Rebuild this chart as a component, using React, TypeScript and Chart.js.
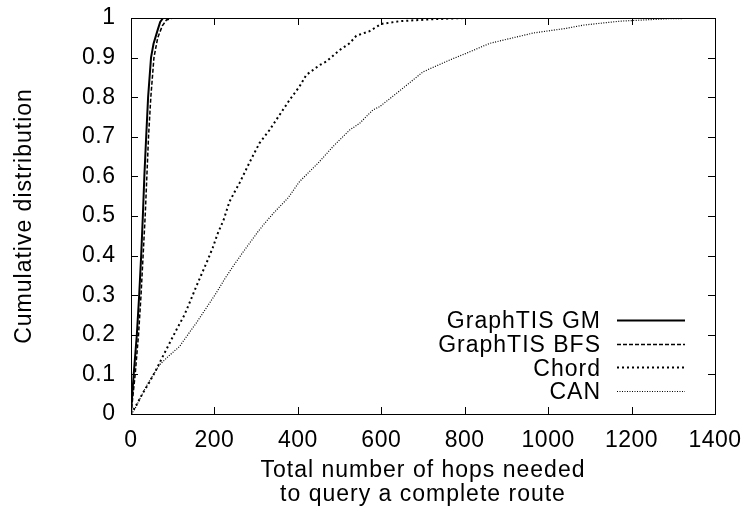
import { useEffect, useRef } from 'react';
import { Chart, registerables } from 'chart.js';

Chart.register(...registerables);

// ---------- data ----------
const seriesLabels = ['GraphTIS GM', 'GraphTIS BFS', 'Chord', 'CAN'];

const xTickValues = [0, 200, 400, 600, 800, 1000, 1200, 1400];
const yTickValues = [0, 0.1, 0.2, 0.3, 0.4, 0.5, 0.6, 0.7, 0.8, 0.9, 1];
const yTickLabels = ['0', '0.1', '0.2', '0.3', '0.4', '0.5', '0.6', '0.7', '0.8', '0.9', '1'];

const xTitleLines = ['Total number of hops needed', 'to query a complete route'];
const yTitle = 'Cumulative distribution';

const gmHops = [0, 3, 6.5, 14, 19.6, 24.4, 28.4, 32, 36.4, 41, 48, 54, 64, 70, 77, 85];
const gmCdf = [0, 0.05, 0.1, 0.2, 0.3, 0.4, 0.5, 0.6, 0.7, 0.8, 0.9, 0.935, 0.97, 0.99, 1.0, 1.0];

const bfsHops = [0, 5, 10, 18, 24, 29, 34, 38, 42, 47.5, 55, 64, 75, 85, 100];
const bfsCdf = [0, 0.05, 0.1, 0.2, 0.3, 0.4, 0.5, 0.6, 0.7, 0.8, 0.9, 0.95, 0.98, 0.995, 1.0];

const chordHops = [0, 14, 28, 44, 60, 76, 92, 110, 128, 142, 156, 170, 184, 196, 208, 222, 236, 248, 260, 284, 308, 332, 356, 380, 404, 420, 452, 468, 500, 524, 540, 572, 600, 644, 724, 800];
const chordCdf = [0, 0.025, 0.052, 0.08, 0.111, 0.145, 0.178, 0.215, 0.25, 0.285, 0.321, 0.355, 0.389, 0.42, 0.456, 0.49, 0.536, 0.56, 0.583, 0.635, 0.684, 0.717, 0.755, 0.793, 0.827, 0.856, 0.881, 0.89, 0.919, 0.936, 0.955, 0.967, 0.985, 0.992, 0.997, 1.0];

const canHops = [0, 8, 36, 68, 92, 116, 136, 156, 180, 204, 224, 244, 264, 284, 304, 324, 344, 364, 376, 404, 448, 484, 500, 524, 548, 580, 596, 644, 700, 764, 804, 860, 964, 1044, 1084, 1172, 1284, 1400];
const canCdf = [0, 0.01, 0.069, 0.124, 0.148, 0.17, 0.2, 0.229, 0.267, 0.305, 0.34, 0.372, 0.402, 0.431, 0.46, 0.486, 0.51, 0.532, 0.545, 0.587, 0.633, 0.675, 0.692, 0.717, 0.734, 0.768, 0.776, 0.816, 0.864, 0.894, 0.911, 0.936, 0.962, 0.974, 0.982, 0.992, 0.998, 1.0];

// ---------- styling ----------
const FONT = '"Liberation Sans", Arial, Helvetica, sans-serif';
const TITLE_SPACING = '1px';
const TICK_SPACING = '0.5px';

const toPoints = (xs: number[], ys: number[]) => xs.map((x, i) => ({ x, y: ys[i] }));

const gnuplotFrame = {
  id: 'gnuplotFrame',
  beforeDraw(chart: any) {
    chart.ctx.letterSpacing = TITLE_SPACING;
  },
  afterDatasetsDraw(chart: any) {
    const ctx = chart.ctx;
    const { left, right, top, bottom } = chart.chartArea;
    ctx.letterSpacing = '0px';
    ctx.save();
    ctx.strokeStyle = '#000';
    ctx.lineWidth = 1;
    ctx.setLineDash([]);
    ctx.strokeRect(left + 0.5, top + 0.5, right - left, bottom - top);
    const xs = chart.scales.x;
    const ys = chart.scales.y;
    const tl = 7;
    ctx.beginPath();
    xs.ticks.forEach((t: any) => {
      const px = Math.round(xs.getPixelForValue(t.value)) + 0.5;
      ctx.moveTo(px, bottom);
      ctx.lineTo(px, bottom - tl);
      ctx.moveTo(px, top);
      ctx.lineTo(px, top + tl);
    });
    ys.ticks.forEach((t: any) => {
      const py = Math.round(ys.getPixelForValue(t.value)) + 0.5;
      ctx.moveTo(left, py);
      ctx.lineTo(left + tl, py);
      ctx.moveTo(right, py);
      ctx.lineTo(right - tl, py);
    });
    ctx.stroke();

    // legend (text first, sample after)
    ctx.font = `23px ${FONT}`;
    ctx.letterSpacing = TITLE_SPACING;
    ctx.textAlign = 'right';
    ctx.textBaseline = 'middle';
    ctx.fillStyle = '#000';
    const n = chart.data.datasets.length;
    chart.data.datasets.forEach((ds: any, i: number) => {
      const y = bottom - 21 - (n - 1 - i) * 23.7;
      ctx.fillText(ds.label, right - 114, y);
      const ly = Math.round(y) - 1.5;
      ctx.beginPath();
      ctx.setLineDash(ds.borderDash || []);
      ctx.lineWidth = ds.borderWidth;
      ctx.strokeStyle = ds.borderColor;
      ctx.moveTo(right - 98, ly);
      ctx.lineTo(right - 30, ly);
      ctx.stroke();
    });
    ctx.restore();
    ctx.letterSpacing = TICK_SPACING;
  },
  afterDraw(chart: any) {
    chart.ctx.letterSpacing = '0px';
  },
};

const clearScalePadding = (scale: any) => {
  scale.paddingLeft = 0;
  scale.paddingRight = 0;
  scale.paddingTop = 0;
  scale.paddingBottom = 0;
};

export default function App() {
  const canvasRef = useRef<HTMLCanvasElement | null>(null);

  useEffect(() => {
    if (!canvasRef.current) return;
    const chart = new Chart(canvasRef.current, {
      type: 'line',
      data: {
        datasets: [
          {
            label: seriesLabels[0],
            data: toPoints(gmHops, gmCdf),
            borderColor: '#000',
            borderWidth: 2,
            borderDash: [],
            pointRadius: 0,
            tension: 0,
            fill: false,
          },
          {
            label: seriesLabels[1],
            data: toPoints(bfsHops, bfsCdf),
            borderColor: '#000',
            borderWidth: 1.5,
            borderDash: [4, 2],
            pointRadius: 0,
            tension: 0,
            fill: false,
          },
          {
            label: seriesLabels[2],
            data: toPoints(chordHops, chordCdf),
            borderColor: '#000',
            borderWidth: 2,
            borderDash: [2, 3],
            pointRadius: 0,
            tension: 0,
            fill: false,
          },
          {
            label: seriesLabels[3],
            data: toPoints(canHops, canCdf),
            borderColor: '#000',
            borderWidth: 1.2,
            borderDash: [1, 1.5],
            pointRadius: 0,
            tension: 0,
            fill: false,
          },
        ],
      },
      options: {
        responsive: false,
        animation: false,
        devicePixelRatio: 1,
        layout: { padding: { left: 0, right: 33, top: 18, bottom: 0 } },
        plugins: {
          legend: { display: false },
          tooltip: { enabled: false },
        },
        scales: {
          x: {
            type: 'linear',
            min: xTickValues[0],
            max: xTickValues[xTickValues.length - 1],
            afterBuildTicks: (scale: any) => {
              scale.ticks = xTickValues.map((v) => ({ value: v }));
            },
            afterFit: (scale: any) => {
              scale.height = 106;
              clearScalePadding(scale);
            },
            grid: { display: false, drawTicks: false },
            border: { display: false },
            ticks: {
              color: '#000',
              font: { size: 23, family: FONT },
              padding: 13,
              maxRotation: 0,
              autoSkip: false,
              z: 1,
              callback: (v: any) => String(v),
            },
            title: {
              display: true,
              text: xTitleLines,
              color: '#000',
              font: { size: 23, family: FONT, lineHeight: '24px' },
              padding: { top: 0, bottom: 13 },
            },
          },
          y: {
            type: 'linear',
            min: yTickValues[0],
            max: yTickValues[yTickValues.length - 1],
            afterBuildTicks: (scale: any) => {
              scale.ticks = yTickValues.map((v) => ({ value: v }));
            },
            afterFit: (scale: any) => {
              scale.width = 131;
              clearScalePadding(scale);
            },
            grid: { display: false, drawTicks: false },
            border: { display: false },
            ticks: {
              color: '#000',
              font: { size: 23, family: FONT },
              padding: 15.5,
              autoSkip: false,
              z: 1,
              callback: (_v: any, i: number) => yTickLabels[i],
            },
            title: {
              display: true,
              text: yTitle,
              color: '#000',
              font: { size: 23, family: FONT, lineHeight: 1.2 },
              padding: { top: 11, bottom: 0 },
            },
          },
        },
      },
      plugins: [gnuplotFrame],
    } as any);
    return () => chart.destroy();
  }, []);

  return (
    <div style={{ position: 'absolute', left: 0, top: 0, width: 748, height: 520, background: '#fff' }}>
      <canvas ref={canvasRef} width={748} height={520} />
    </div>
  );
}
